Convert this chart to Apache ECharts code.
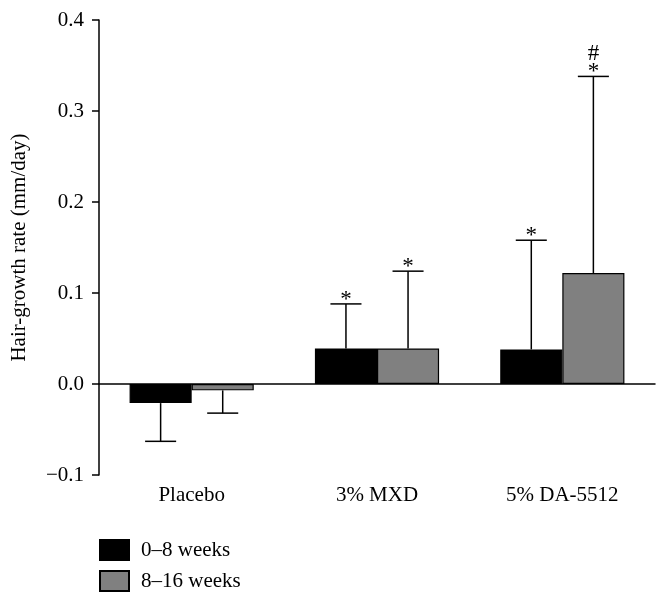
<!DOCTYPE html>
<html>
<head>
<meta charset="utf-8">
<script src="https://cdn.jsdelivr.net/npm/echarts@6/dist/echarts.min.js"></script>
<style>
  html, body { margin: 0; padding: 0; background: #fff; }
  #chart { width: 664px; height: 601px; }
</style>
</head>
<body>
<div id="chart"></div>
<script>
const categories = ['Placebo', '3% MXD', '5% DA-5512']
const seriesNames = ['0–8 weeks', '8–16 weeks']
const seriesColors = ['#000000', '#808080']

// mean values
const early = [-0.021, 0.039, 0.038]
const late = [-0.007, 0.039, 0.122]
// end of the error bar (mean ± SD, drawn away from zero)
const earlyErr = [-0.063, 0.088, 0.158]
const lateErr = [-0.032, 0.124, 0.338]
// significance marks above the error bars
const earlyMarks = ['', '*', '*']
const lateMarks = ['', '*', '#\n*']

const yTicks = [-0.1, 0, 0.1, 0.2, 0.3, 0.4]

const font = '"Liberation Serif", "DejaVu Serif", serif'
const fontSize = 21
const barShare = 0.335

const errData = []
categories.forEach((c, i) => {
  errData.push([i, early[i], earlyErr[i], 0, earlyMarks[i]])
  errData.push([i, late[i], lateErr[i], 1, lateMarks[i]])
})

function renderError(params, api) {
  const cat = api.value(0)
  const mean = api.value(1)
  const end = api.value(2)
  const s = api.value(3)
  const mark = errData[params.dataIndex][4]
  const catW = api.size([1, 0])[0]
  const bw = catW * barShare
  const cx = api.coord([cat, 0])[0] + (s === 0 ? -bw / 2 : bw / 2)
  const y0 = api.coord([cat, mean])[1]
  const y1 = api.coord([cat, end])[1]
  const style = { stroke: '#000', lineWidth: 1.5 }
  const children = [
    { type: 'line', shape: { x1: cx, y1: y0, x2: cx, y2: y1 }, style },
    { type: 'line', shape: { x1: cx - bw / 4, y1: y1, x2: cx + bw / 4, y2: y1 }, style }
  ]
  if (mark) {
    children.push({
      type: 'text',
      style: {
        text: mark,
        x: cx,
        y: y1 + 5,
        align: 'center',
        verticalAlign: 'bottom',
        fontFamily: font,
        fontSize: 23,
        lineHeight: 18,
        fill: '#000'
      }
    })
  }
  return { type: 'group', children }
}

const chart = echarts.init(document.getElementById('chart'))
const option = {
  animation: false,
  backgroundColor: '#fff',
  grid: {
    left: 99,
    right: 9,
    top: 20,
    bottom: 126,
    outerBoundsMode: 'none'
  },
  legend: {
    data: seriesNames,
    orient: 'vertical',
    left: 94,
    top: 534,
    icon: 'rect',
    itemWidth: 29,
    itemHeight: 20,
    itemGap: 9,
    textStyle: { fontFamily: font, fontSize: fontSize, color: '#000', padding: [0, 0, 0, 7] }
  },
  xAxis: {
    type: 'category',
    data: categories,
    axisLine: { onZero: true, lineStyle: { color: '#000', width: 1.5 } },
    axisTick: { show: false },
    axisLabel: {
      color: '#000',
      fontFamily: font,
      fontSize: fontSize,
      margin: 10
    }
  },
  yAxis: {
    type: 'value',
    min: -0.1,
    max: 0.4,
    interval: 0.1,
    name: 'Hair-growth rate (mm/day)',
    nameLocation: 'middle',
    nameGap: 69,
    nameTextStyle: { fontFamily: font, fontSize: fontSize, color: '#000' },
    axisLine: { show: true, lineStyle: { color: '#000', width: 1.5 } },
    axisTick: { show: true, length: 7, lineStyle: { color: '#000', width: 1.5 } },
    splitLine: { show: false },
    axisLabel: {
      color: '#000',
      fontFamily: font,
      fontSize: fontSize,
      margin: 15,
      formatter: v => {
        const t = yTicks.find(k => Math.abs(k - v) < 1e-9)
        const val = t === undefined ? v : t
        return val < 0 ? '−' + Math.abs(val).toFixed(1) : val.toFixed(1)
      }
    }
  },
  series: [
    {
      name: seriesNames[0],
      type: 'bar',
      data: early,
      barWidth: (barShare * 100) + '%',
      barGap: 0,
      itemStyle: { color: seriesColors[0], borderColor: '#000', borderWidth: 1.2 }
    },
    {
      name: seriesNames[1],
      type: 'bar',
      data: late,
      barWidth: (barShare * 100) + '%',
      barGap: 0,
      itemStyle: { color: seriesColors[1], borderColor: '#000', borderWidth: 1.2 }
    },
    {
      type: 'custom',
      renderItem: renderError,
      data: errData.map(d => d.slice(0, 4)),
      z: 1,
      silent: true
    }
  ]
}
chart.setOption(option)
</script>
</body>
</html>
